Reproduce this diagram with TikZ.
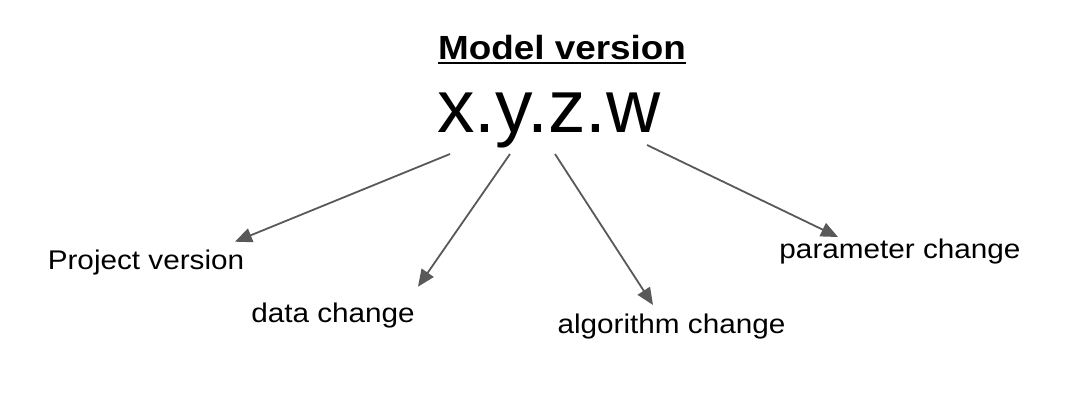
\documentclass[tikz,border=0pt]{standalone}
\usepackage{fontspec}
\setmainfont{Liberation Sans}
\newfontfamily\labelfont{Liberation Sans}[FakeStretch=1.1]
\usepackage{tikz}
\usetikzlibrary{arrows.meta, calc, positioning}
\definecolor{edgegray}{HTML}{595959}
\newcommand{\ulinetext}[1]{\setbox0\hbox{#1}\rlap{\usebox0}\rule[-5pt]{\wd0}{2pt}}
\tikzstyle{lbl} = [inner sep=0pt, anchor=base, font=\labelfont\fontsize{27}{32}\selectfont]
\tikzstyle{line} = [draw, edgegray, line width=1.8pt, -{Triangle[length=17pt,width=14.5pt]}]

\begin{document}
\begin{tikzpicture}[x=1pt,y=1pt]
        \useasboundingbox[fill=white] (0,0) rectangle (1070,-408);
        % Place nodes
        \node [lbl, font=\labelfont\bfseries\fontsize{33.5}{40}\selectfont] (title) at (562,-59) {\ulinetext{Model version}};
        \node [lbl, font=\fontsize{75}{90}\selectfont] (ver) at (549,-132) {x.y.z.w};
        \node [lbl] (proj) at (146,-269) {Project version};
        \node [lbl] (data) at (333,-322) {data change};
        \node [lbl] (algo) at (671.5,-333.3) {algorithm change};
        \node [lbl] (param) at (900,-258.3) {parameter change};
        % Tails below the version number
        \coordinate (tp) at (450,-154);
        \coordinate (td) at (510,-154);
        \coordinate (ta) at (555,-154);
        \coordinate (tr) at (647,-145);
        % Draw edges
        \path [line] (tp) -- ([shift={(89,27.3)}]proj.base);
        \path [line] (td) -- ([shift={(85,35.3)}]data.base);
        \path [line] (ta) -- ([shift={(-18.5,28.3)}]algo.base);
        \path [line] (tr) -- ([shift={(-62,21.3)}]param.base);
    \end{tikzpicture}
\end{document}
